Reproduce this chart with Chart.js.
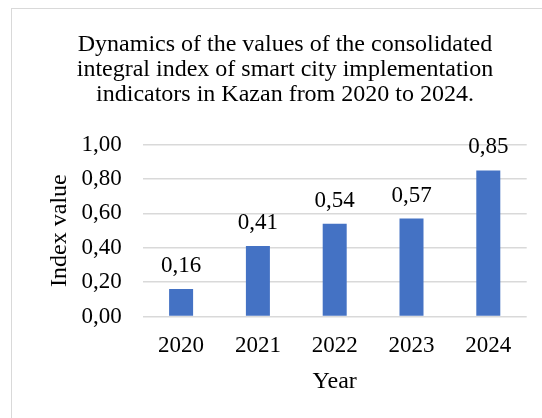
<!DOCTYPE html>
<html>
<head>
<meta charset="utf-8">
<script src="https://cdn.jsdelivr.net/npm/chart.js@4"></script>
<style>
  html, body { margin: 0; padding: 0; background: #fff; overflow: hidden; width: 542px; height: 418px; }
  #box { position: absolute; left: 11px; top: 8px; width: 548px; height: 420px; border: 1px solid #d9d9d9; box-sizing: border-box; }
  #wrap { position: absolute; left: 0; top: 0; width: 546px; height: 418px; }
</style>
</head>
<body>
<div id="box"><div id="wrap"><canvas id="c"></canvas></div></div>
<script>
const titleLines = [
  "Dynamics of the values of the consolidated",
  "integral index of smart city implementation",
  "indicators in Kazan from 2020 to 2024."
];
const categories = ["2020", "2021", "2022", "2023", "2024"];
const values = [0.16, 0.41, 0.54, 0.57, 0.85];
const yTicks = [0, 0.2, 0.4, 0.6, 0.8, 1.0];
const xTitle = "Year";
const yTitle = "Index value";

const FONT = '"Liberation Serif"';
const fmt = v => v.toFixed(2).replace('.', ',');

const barLabels = {
  id: 'barLabels',
  afterDatasetsDraw(chart) {
    const ctx = chart.ctx;
    const meta = chart.getDatasetMeta(0);
    ctx.save();
    ctx.font = "23px " + FONT;
    ctx.fillStyle = "#000";
    ctx.textAlign = "center";
    ctx.textBaseline = "alphabetic";
    meta.data.forEach((el, i) => {
      ctx.fillText(fmt(values[i]), el.x, el.y - 17);
    });
    ctx.restore();
  }
};

function build() {
  Chart.defaults.font.family = FONT;
  new Chart(document.getElementById('c'), {
    type: 'bar',
    data: {
      labels: categories,
      datasets: [{
        data: values,
        backgroundColor: '#4472C4',
        borderWidth: 0,
        categoryPercentage: 1,
        barPercentage: 0.3125,
        yAxisID: 'y'
      }]
    },
    options: {
      responsive: true,
      maintainAspectRatio: false,
      animation: false,
      devicePixelRatio: 1,
      layout: { padding: { left: 0, right: 0, top: 0, bottom: 31 } },
      plugins: {
        legend: { display: false },
        tooltip: { enabled: false },
        title: {
          display: true,
          text: titleLines,
          color: '#000',
          font: { family: FONT, size: 24, weight: 'normal', lineHeight: 1.05 },
          padding: { top: 23, bottom: 37 }
        }
      },
      scales: {
        x: {
          grid: { display: false },
          border: { display: false },
          ticks: { color: '#000', font: { family: FONT, size: 23 }, padding: 8 },
          title: { display: true, text: xTitle, color: '#000', font: { family: FONT, size: 24 }, padding: { top: -1, bottom: 0 } }
        },
        y: {
          min: 0, max: 1,
          afterFit(scale) { scale.width = 130.7; },
          afterBuildTicks(scale) { scale.ticks = yTicks.map(v => ({ value: v })); },
          grid: { color: '#d9d9d9', lineWidth: 1.5, drawTicks: false },
          border: { display: false },
          ticks: { color: '#000', font: { family: FONT, size: 23 }, padding: 21, callback: v => fmt(v) },
          title: { display: true, text: yTitle, color: '#000', font: { family: FONT, size: 24 }, padding: { top: 33, bottom: 0 } }
        },
        yRight: {
          position: 'right',
          min: 0, max: 1,
          afterFit(scale) { scale.width = 31.3; },
          grid: { display: false, drawTicks: false },
          border: { display: false },
          ticks: { display: false }
        }
      }
    },
    plugins: [barLabels]
  });
}

if (document.fonts && document.fonts.load) {
  Promise.all([
    document.fonts.load('24px "Liberation Serif"'),
    document.fonts.load('23px "Liberation Serif"')
  ]).then(build, build);
} else {
  build();
}
</script>
</body>
</html>
